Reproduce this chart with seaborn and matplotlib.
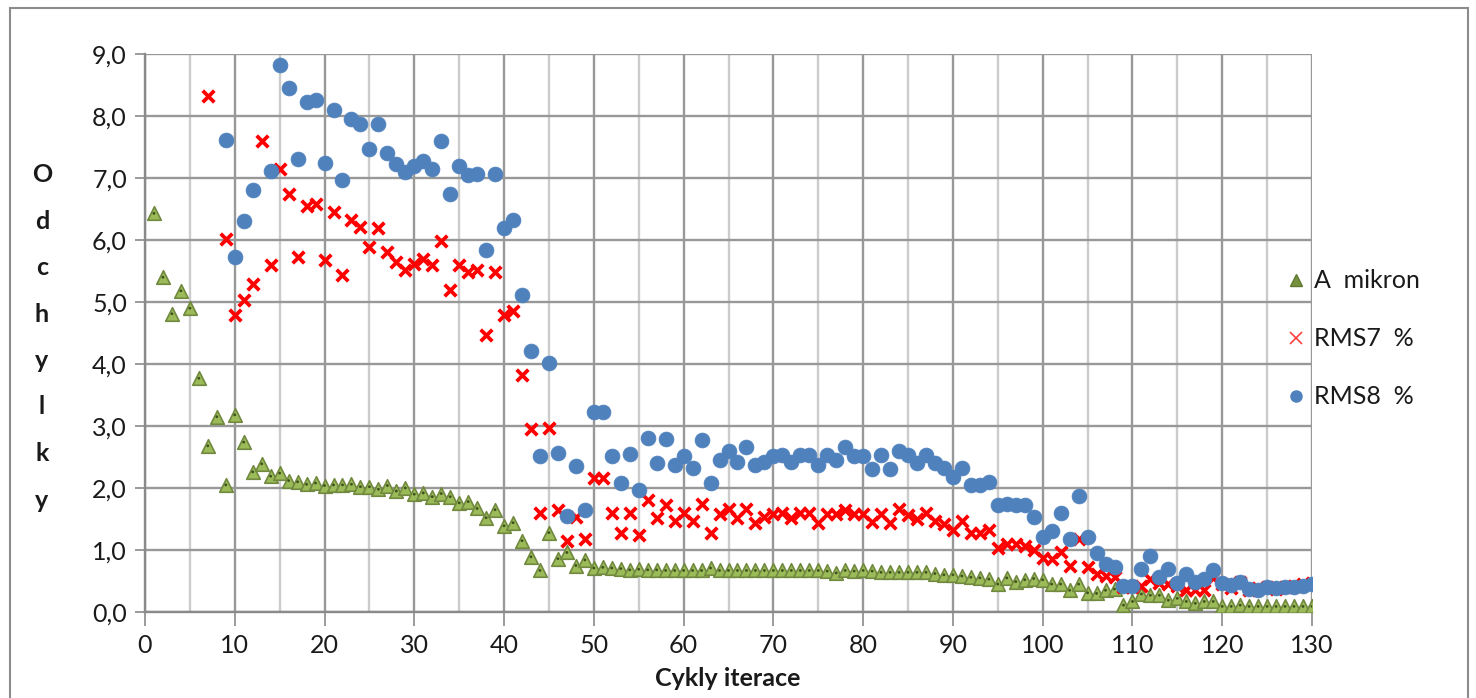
import numpy as np
import pandas as pd
import matplotlib
matplotlib.use("Agg")
import matplotlib.pyplot as plt
from matplotlib.lines import Line2D
from matplotlib.patches import Rectangle
from matplotlib.ticker import MultipleLocator, FuncFormatter
import seaborn as sns

nan = np.nan
iterations = list(range(1, 131))

a_mikron = [6.43, 5.40, 4.81, 5.18, 4.90, 3.77, 2.68, 3.15, 2.05, 3.18,
            2.74, 2.26, 2.39, 2.19, 2.24, 2.12, 2.10, 2.06, 2.08, 2.04,
            2.05, 2.05, 2.06, 2.02, 2.02, 1.98, 2.04, 1.95, 2.00, 1.90,
            1.92, 1.86, 1.91, 1.86, 1.76, 1.78, 1.67, 1.52, 1.65, 1.39,
            1.44, 1.15, 0.89, 0.67, 1.28, 0.86, 0.96, 0.75, 0.84, 0.71,
            0.72, 0.71, 0.70, 0.68, 0.69, 0.68, 0.68, 0.67, 0.67, 0.67,
            0.67, 0.67, 0.71, 0.67, 0.67, 0.67, 0.67, 0.67, 0.67, 0.67,
            0.67, 0.67, 0.67, 0.67, 0.67, 0.66, 0.63, 0.67, 0.66, 0.67,
            0.66, 0.64, 0.64, 0.64, 0.64, 0.64, 0.64, 0.62, 0.60, 0.60,
            0.58, 0.56, 0.55, 0.53, 0.45, 0.55, 0.49, 0.52, 0.54, 0.52,
            0.45, 0.45, 0.35, 0.45, 0.31, 0.30, 0.35, 0.37, 0.11, 0.17,
            0.29, 0.27, 0.27, 0.19, 0.22, 0.17, 0.14, 0.17, 0.17, 0.09,
            0.09, 0.11, 0.09, 0.09, 0.09, 0.09, 0.09, 0.09, 0.09, 0.09]

rms7 = [nan, nan, nan, nan, nan, nan, 8.32, nan, 6.01, 4.79,
        5.04, 5.29, 7.60, 5.59, 7.15, 6.74, 5.73, 6.55, 6.58, 5.67,
        6.45, 5.44, 6.32, 6.21, 5.89, 6.19, 5.80, 5.64, 5.52, 5.62,
        5.69, 5.59, 5.99, 5.19, 5.59, 5.49, 5.52, 4.47, 5.49, 4.79,
        4.86, 3.83, 2.95, 1.60, 2.97, 1.65, 1.15, 1.53, 1.17, 2.16,
        2.16, 1.60, 1.28, 1.60, 1.25, 1.80, 1.51, 1.73, 1.46, 1.59,
        1.47, 1.75, 1.28, 1.58, 1.66, 1.52, 1.66, 1.44, 1.53, 1.58,
        1.59, 1.52, 1.59, 1.59, 1.44, 1.58, 1.58, 1.65, 1.58, 1.58,
        1.45, 1.58, 1.44, 1.66, 1.56, 1.50, 1.59, 1.47, 1.42, 1.33,
        1.47, 1.27, 1.27, 1.32, 1.04, 1.09, 1.10, 1.06, 1.00, 0.87,
        0.85, 0.97, 0.74, 1.17, 0.73, 0.62, 0.58, 0.57, 0.41, 0.41,
        0.42, 0.53, 0.46, 0.45, 0.42, 0.35, 0.35, 0.35, 0.55, 0.45,
        0.38, 0.48, 0.35, 0.38, 0.40, 0.37, 0.40, 0.42, 0.45, 0.47]

rms8 = [nan, nan, nan, nan, nan, nan, nan, nan, 7.62, 5.72,
        6.30, 6.80, nan, 7.12, 8.83, 8.45, 7.30, 8.23, 8.26, 7.25,
        8.10, 6.97, 7.95, 7.87, 7.47, 7.87, 7.40, 7.22, 7.09, 7.20,
        7.28, 7.15, 7.60, 6.74, 7.19, 7.05, 7.07, 5.84, 7.07, 6.19,
        6.32, 5.11, 4.21, 2.52, 4.01, 2.57, 1.55, 2.35, 1.65, 3.23,
        3.23, 2.52, 2.08, 2.55, 1.97, 2.80, 2.40, 2.79, 2.37, 2.52,
        2.33, 2.78, 2.08, 2.45, 2.59, 2.42, 2.66, 2.37, 2.42, 2.52,
        2.53, 2.42, 2.53, 2.53, 2.37, 2.53, 2.45, 2.66, 2.52, 2.52,
        2.30, 2.53, 2.30, 2.59, 2.53, 2.41, 2.53, 2.41, 2.32, 2.17,
        2.33, 2.05, 2.05, 2.10, 1.73, 1.75, 1.73, 1.73, 1.53, 1.21,
        1.31, 1.60, 1.17, 1.87, 1.21, 0.95, 0.77, 0.73, 0.42, 0.42,
        0.70, 0.90, 0.57, 0.70, 0.47, 0.61, 0.49, 0.53, 0.67, 0.47,
        0.44, 0.49, 0.37, 0.35, 0.40, 0.38, 0.40, 0.40, 0.42, 0.45]

series_names = ["A  mikron", "RMS7  %", "RMS8  %"]
x_ticks = list(range(0, 131, 10))
y_ticks = list(range(0, 10))
x_label = "Cykly iterace"
y_label = "Odchylky"

df = pd.DataFrame({"x": iterations, series_names[0]: a_mikron,
                   series_names[1]: rms7, series_names[2]: rms8})

sns.set_theme(style="white")
plt.rcParams["font.family"] = ["Lato", "DejaVu Sans"]

W, H = 1476, 698
fig = plt.figure(figsize=(W / 100, H / 100), dpi=100)
fig.patch.set_facecolor("white")
ax = fig.add_axes([145 / W, 1 - 612 / H, (1312 - 145) / W, (612 - 54) / H])

green_fill, green_edge = "#9BBB59", "#71893F"
red = "#FF0000"
blue = "#4F81BD"

d0 = df[["x", series_names[0]]].dropna()
sns.scatterplot(data=d0, x="x", y=series_names[0], ax=ax, marker="^", s=95,
                color=green_fill, edgecolor=green_edge, linewidth=1.2, zorder=3)
sns.scatterplot(data=d0, x="x", y=series_names[0], ax=ax, marker="o", s=4,
                color="#3d4f1c", edgecolor="none", linewidth=0, zorder=3.1)
d1 = df[["x", series_names[1]]].dropna()
sns.scatterplot(data=d1, x="x", y=series_names[1], ax=ax, marker="x", s=70,
                color=red, linewidth=2.7, zorder=4)
d2 = df[["x", series_names[2]]].dropna()
sns.scatterplot(data=d2, x="x", y=series_names[2], ax=ax, marker="o", s=115,
                color=blue, edgecolor=blue, linewidth=0.5, zorder=5)

ax.set_xlim(0, 130)
ax.set_ylim(0, 9)
ax.set_xticks(x_ticks)
ax.set_yticks(y_ticks)
ax.xaxis.set_minor_locator(MultipleLocator(5))
ax.yaxis.set_major_formatter(FuncFormatter(lambda v, p: f"{v:.1f}".replace(".", ",")))
ax.grid(which="major", color="#989898", linewidth=1.7, zorder=0)
ax.grid(which="minor", axis="x", color="#cccccc", linewidth=1.7, zorder=0)
ax.set_axisbelow(True)
for s in ["top", "right"]:
    ax.spines[s].set_visible(False)
for s in ["left", "bottom"]:
    ax.spines[s].set_color("#8a8a8a")
    ax.spines[s].set_linewidth(1.7)
ax.tick_params(axis="x", which="major", length=10, width=1.2, color="#8a8a8a",
               pad=6, labelsize=18, labelcolor="#1a1a1a")
ax.tick_params(axis="y", which="major", length=7, width=1.2, color="#8a8a8a",
               pad=6, labelsize=18, labelcolor="#1a1a1a")
ax.tick_params(which="minor", length=0)
ax.tick_params(axis="both", which="both", bottom=True, left=True)
ax.set_xlabel("")
ax.set_ylabel("")

fig.text(728 / W, 1 - 678 / H, x_label, ha="center", va="center",
         fontsize=18, fontweight="bold", color="#1a1a1a")
base0, step = 182, 46.5
for i, ch in enumerate(y_label):
    fig.text(42 / W, 1 - (base0 + i * step) / H, ch, ha="center", va="baseline",
             fontsize=18, fontweight="bold", color="#1a1a1a")

handles = [
    Line2D([], [], linestyle="none", marker="^", markersize=8,
           markerfacecolor="#76923C", markeredgecolor="#5f7a30"),
    Line2D([], [], linestyle="none", marker="x", markersize=9,
           color="#ff4040", markeredgewidth=1.2),
    Line2D([], [], linestyle="none", marker="o", markersize=8,
           markerfacecolor=blue, markeredgecolor=blue),
]
fig.legend(handles, series_names, loc="center left",
           bbox_to_anchor=((1296 - 12.5) / W, 1 - 339 / H), frameon=False,
           fontsize=18, handlelength=1.0, handletextpad=0.2, labelspacing=1.4,
           borderpad=0, borderaxespad=0, labelcolor="#1a1a1a")

fig.add_artist(Rectangle((10 / W, -0.01), (1468 - 10) / W, 1 - 8 / H + 0.01,
                         transform=fig.transFigure, fill=False,
                         edgecolor="#8c8c8c", linewidth=1.5))

fig.savefig("out.png", dpi=100)
